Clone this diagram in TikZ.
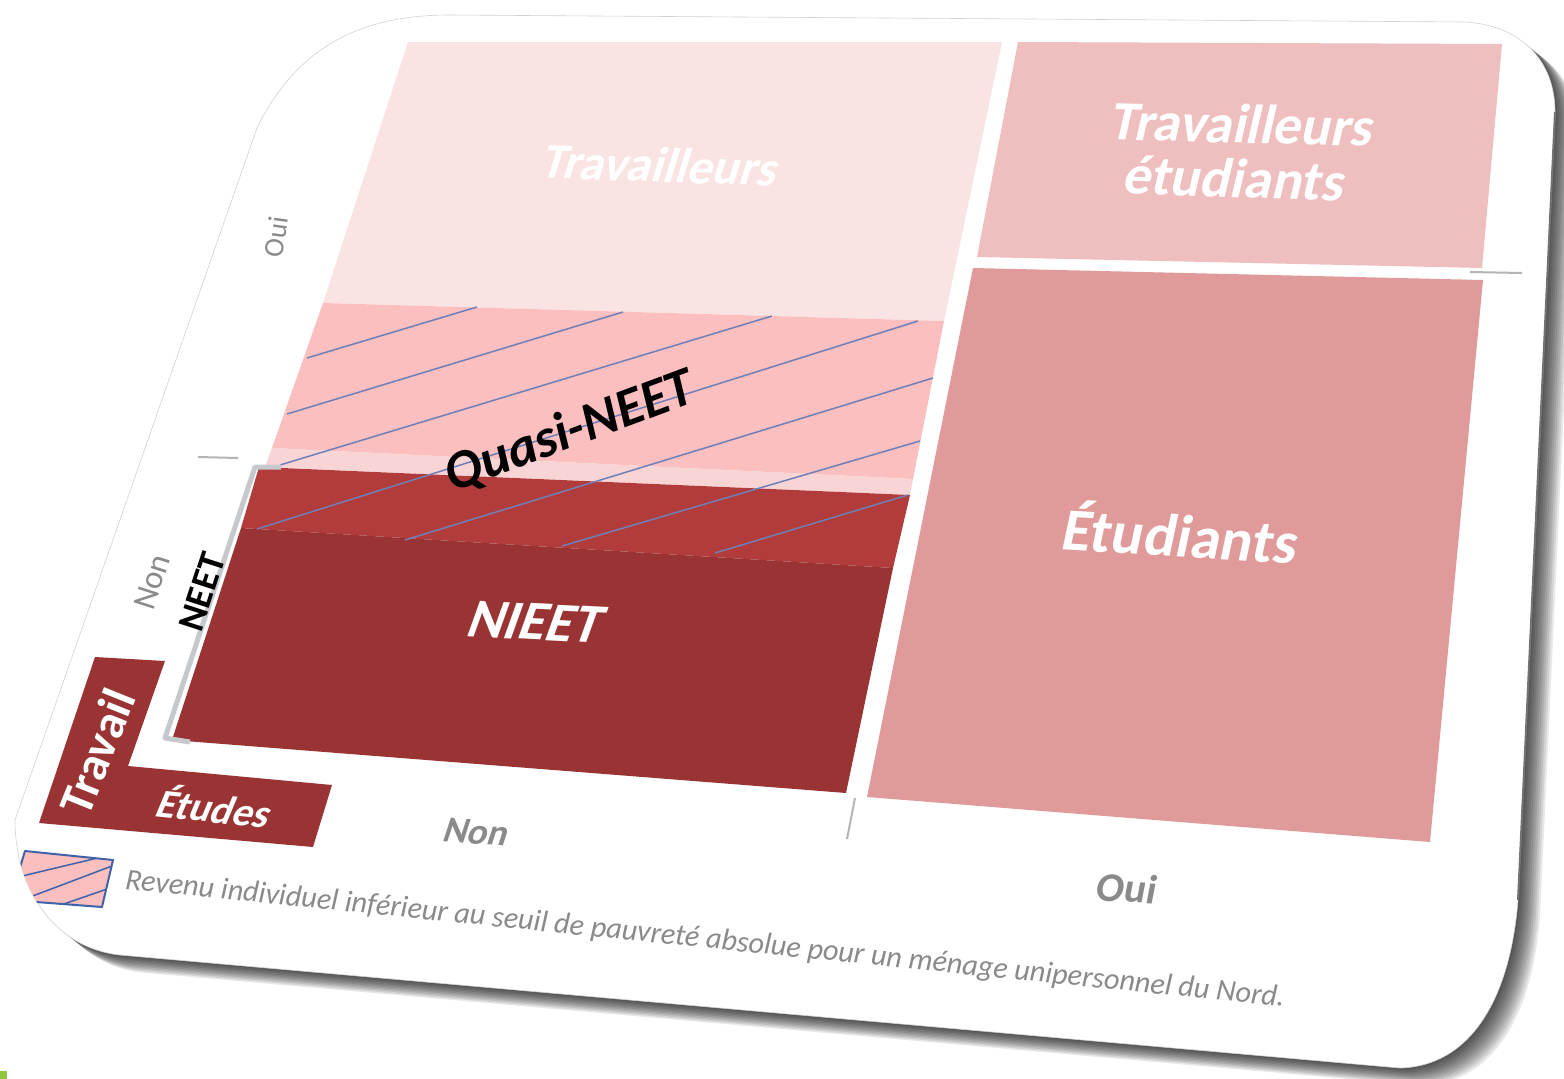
\documentclass[tikz,border=0pt]{standalone}
\usepackage{fontspec}
\setmainfont{Carlito}
\definecolor{travC}{HTML}{F9E3E3}
\definecolor{quasiC}{HTML}{FBBFBF}
\definecolor{thinC}{HTML}{F9D4D4}
\definecolor{redC}{HTML}{B23B3B}
\definecolor{nieetC}{HTML}{9A3434}
\definecolor{teC}{HTML}{EFBEBE}
\definecolor{etuC}{HTML}{E09A9A}
\definecolor{hatchC}{HTML}{6F80B8}
\definecolor{grayT}{HTML}{8A8A8A}
\definecolor{brkC}{HTML}{C6C9CC}
\definecolor{legC}{HTML}{3F62A8}
\definecolor{tickC}{HTML}{B4B4B4}
\definecolor{greenC}{HTML}{8DC63F}
\newcommand{\fitw}[2]{\resizebox{#1}{!}{#2}}
\def\cardpath{(257,128) .. controls (300,40) and (370,15) .. (450,15) -- (1465,22) .. controls (1520,25) and (1555,60) .. (1555,112) -- (1518,900) .. controls (1510,1000) and (1470,1066) .. (1400,1068) -- (120,955) .. controls (55,948) and (15,890) .. (15,820) -- cycle}
\tikzset{
  wt/.style={text=white, font=\bfseries, inner sep=0pt},
  bt/.style={text=black, font=\bfseries, inner sep=0pt},
  gt/.style={text=grayT, font=\bfseries, inner sep=0pt},
  hatchline/.style={draw=hatchC, line width=1.5pt},
  tickline/.style={draw=tickC, line width=2pt},
}
\begin{document}
\begin{tikzpicture}[x=1pt, y=-1pt]
\useasboundingbox (0,0) rectangle (1564,1079);
\clip (0,0) rectangle (1564,1079);
\fill[white] (0,0) rectangle (1564,1079);
% shadow
\foreach \s in {2,4,...,22} {
  \fill[black, opacity=0.09, shift={(\s,0.8*\s)}] \cardpath;
}
% card
\fill[white] \cardpath;
\draw[gray!35, line width=0.6pt] \cardpath;
\draw[black!55, line width=2pt] (1555,112) -- (1518,900);
% left column
\fill[travC] (408,42) -- (1002,42) -- (944,321) -- (323,303) -- cycle;
\fill[quasiC] (323,303) -- (944,321) -- (913,479) -- (272,448) -- cycle;
\fill[thinC] (272,448) -- (913,479) -- (910,495) -- (265,467) -- cycle;
\fill[redC] (259,467) -- (910,495) -- (893,568) -- (241,528) -- cycle;
\fill[nieetC] (241,528) -- (893,568) -- (846,793) -- (172,740) -- cycle;
% right column
\fill[teC] (1018,42) -- (1502,44) -- (1482,268) -- (977,257) -- cycle;
\fill[etuC] (973,268) -- (1483,280) -- (1430,842) -- (867,797) -- cycle;
% hatch
\draw[hatchline] (307,358) -- (477,307);
\draw[hatchline] (287,414) -- (623,312);
\draw[hatchline] (280,465) -- (772,316);
\draw[hatchline] (257,529) -- (918,321);
\draw[hatchline] (405,540) -- (933,378);
\draw[hatchline] (562,546) -- (920,441);
\draw[hatchline] (715,553) -- (908,495);
% NEET bracket
\draw[brkC, line width=5pt, line join=round] (281,467) -- (255,467) -- (165,738) -- (190,742);
% ticks
\draw[tickline] (198,457) -- (238,458);
\draw[tickline] (1470,272) -- (1522,273);
\draw[tickline] (855,798) -- (847,839);
% L box
\fill[nieetC] (95,657) -- (165,661) -- (128,766) -- (332,785) -- (313,847) -- (39,823) -- cycle;
% legend box
\begin{scope}
  \clip \cardpath;
  \begin{scope}
    \clip (25,851) -- (113,860) -- (102,907) -- (10,900) -- cycle;
    \fill[quasiC] (0,840) rectangle (120,915);
    \draw[legC, line width=1.5pt] (18,877) -- (110,855);
    \draw[legC, line width=1.5pt] (30,897) -- (112,866);
    \draw[legC, line width=1.5pt] (58,906) -- (110,888);
  \end{scope}
  \draw[legC, line width=2pt, line join=round] (25,851) -- (113,860) -- (102,907) -- (10,900) -- cycle;
\end{scope}
% texts
\node[wt, rotate=-2, xslant=0.27] (trav) at (662,165) {\fitw{235pt}{Travailleurs}};
\node[wt, rotate=-1.5, xslant=0.2] (te1) at (1244,124) {\fitw{262pt}{Travailleurs}};
\node[wt, rotate=-2, xslant=0.2] (te2) at (1236,178) {\fitw{220pt}{étudiants}};
\node[wt, rotate=-3.5, xslant=0.15] (etu) at (1182,532) {\fitw{235pt}{Étudiants}};
\node[wt, rotate=-3, xslant=0.3] (nieet) at (537,622) {\fitw{133pt}{NIEET}};
\node[bt, rotate=20.5] (quasi) at (570,432) {\fitw{262pt}{\itshape Quasi-NEET}};
\node[bt, rotate=72] (neet) at (202,592) {\fitw{80pt}{NEET}};
\node[gt, font=\normalfont, rotate=72] (nonL) at (152,582) {\fitw{56pt}{Non}};
\node[gt, font=\normalfont, rotate=82] (ouiL) at (276,237) {\fitw{40pt}{Oui}};
\node[wt, rotate=68] (travail) at (97,752) {\fitw{130pt}{Travail}};
\node[wt, rotate=-6, xslant=0.3] (etudes) at (216,806) {\fitw{113pt}{Études}};
\node[gt, rotate=-4, xslant=0.25] (nonB) at (477,832) {\fitw{64pt}{Non}};
\node[gt, rotate=-4, xslant=0.12] (ouiB) at (1127,888) {\fitw{60pt}{Oui}};
\node[gt, font=\itshape, rotate=-5.8] (legend) at (705,940) {\fitw{1165pt}{Revenu individuel inférieur au seuil de pauvreté absolue pour un ménage unipersonnel du Nord.}};
% small green mark
\fill[greenC] (0,1071) rectangle (7,1079);
\end{tikzpicture}
\end{document}
